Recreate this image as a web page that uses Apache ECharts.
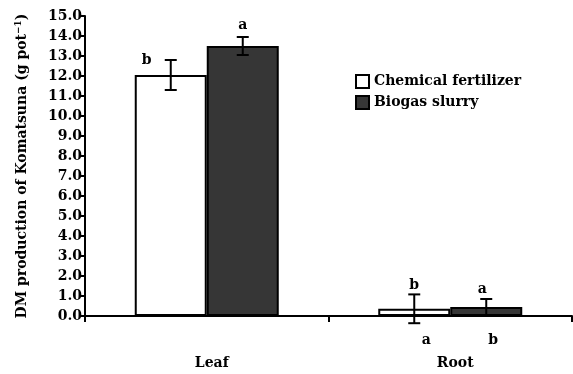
<!DOCTYPE html>
<html>
<head>
<meta charset="utf-8">
<script src="https://cdn.jsdelivr.net/npm/echarts@6/dist/echarts.min.js"></script>
<style>
  html, body { margin: 0; padding: 0; background: #fff; }
  #chart { width: 573px; height: 374px; }
</style>
</head>
<body>
<div id="chart"></div>
<script>
// data
const categories = ['Leaf', 'Root'];
const chemical = [12.05, 0.36];
const chemicalErr = [0.75, 0.72];
const biogas = [13.5, 0.45];
const biogasErr = [0.45, 0.4];
// significance letters: above the bars, and below the axis (root only)
const chemicalLetters = ['b', 'b'];
const biogasLetters = ['a', 'a'];
const chemicalLettersBelow = ['', 'a'];
const biogasLettersBelow = ['', 'b'];

const serif = '"DejaVu Serif", "Liberation Serif", serif';
const FS = 14;
const BAR_W = 72;

const chart = echarts.init(document.getElementById('chart'));

function errorSeries(values, errs, shift) {
  return {
    type: 'custom',
    z: 5,
    silent: true,
    data: values.map((v, i) => [i, v, errs[i]]),
    renderItem(params, api) {
      const i = api.value(0), v = api.value(1), e = api.value(2);
      const top = api.coord([i, v + e]);
      const bot = api.coord([i, v - e]);
      const x = top[0] + shift;
      const cap = 6;
      const style = { stroke: '#000', lineWidth: 2 };
      return {
        type: 'group',
        children: [
          { type: 'line', shape: { x1: x, y1: top[1], x2: x, y2: bot[1] }, style },
          { type: 'line', shape: { x1: x - cap, y1: top[1], x2: x + cap, y2: top[1] }, style },
          { type: 'line', shape: { x1: x - cap, y1: bot[1], x2: x + cap, y2: bot[1] }, style }
        ]
      };
    }
  };
}

function letterSeries(values, errs, letters, below, shift, dx, dy) {
  return {
    type: 'custom',
    z: 6,
    silent: true,
    data: values.map((v, i) => [i, v, errs[i]]),
    renderItem(params, api) {
      const i = api.value(0);
      const txt = letters[i];
      if (!txt) return null;
      const p = below ? api.coord([i, 0]) : api.coord([i, api.value(1) + api.value(2)]);
      return {
        type: 'text',
        style: {
          x: p[0] + shift + dx[i],
          y: p[1] + dy[i],
          text: txt,
          fill: '#000',
          font: 'bold ' + FS + 'px ' + serif,
          align: 'center',
          verticalAlign: 'middle'
        }
      };
    }
  };
}

const option = {
  animation: false,
  backgroundColor: '#fff',
  grid: { left: 85, right: 1, top: 16, bottom: 58 },
  legend: {
    orient: 'vertical',
    left: 350,
    top: 69,
    icon: 'rect',
    itemWidth: 13,
    itemHeight: 13,
    itemGap: 6,
    textStyle: { fontFamily: serif, fontWeight: 'bold', fontSize: FS, color: '#000' },
    data: ['Chemical fertilizer', 'Biogas slurry']
  },
  xAxis: {
    type: 'category',
    data: categories,
    axisLine: { lineStyle: { color: '#000', width: 2 } },
    axisTick: { show: true, length: 6, lineStyle: { color: '#000', width: 2 } },
    axisLabel: { margin: 40, padding: [0, 0, 0, 10], color: '#000', fontFamily: serif, fontWeight: 'bold', fontSize: FS }
  },
  yAxis: {
    type: 'value',
    min: 0,
    max: 15,
    interval: 1,
    name: 'DM production of Komatsuna (g pot{sup|−1})',
    nameLocation: 'middle',
    nameGap: 54,
    nameTextStyle: {
      color: '#000', fontFamily: serif, fontWeight: 'bold', fontSize: FS,
      rich: { sup: { fontFamily: serif, fontWeight: 'bold', fontSize: 9, verticalAlign: 'top', padding: [0, 0, 8, 0] } }
    },
    axisLine: { show: true, lineStyle: { color: '#000', width: 2 } },
    axisTick: { show: true, length: 5, lineStyle: { color: '#000', width: 2 } },
    splitLine: { show: false },
    axisLabel: {
      margin: 3,
      color: '#000', fontFamily: serif, fontWeight: 'bold', fontSize: FS,
      formatter: v => v.toFixed(1)
    }
  },
  series: [
    {
      name: 'Chemical fertilizer',
      type: 'bar',
      data: chemical,
      barWidth: BAR_W,
      barGap: '0%',
      itemStyle: { color: '#fff', borderColor: '#000', borderWidth: 2 }
    },
    {
      name: 'Biogas slurry',
      type: 'bar',
      data: biogas,
      barWidth: BAR_W,
      barGap: '0%',
      itemStyle: { color: '#363636', borderColor: '#000', borderWidth: 2 }
    },
    errorSeries(chemical, chemicalErr, -BAR_W / 2),
    errorSeries(biogas, biogasErr, BAR_W / 2),
    letterSeries(chemical, chemicalErr, chemicalLetters, false, -BAR_W / 2, [-24, 0], [0, -9]),
    letterSeries(biogas, biogasErr, biogasLetters, false, BAR_W / 2, [0, -4], [-12, -10]),
    letterSeries(chemical, chemicalErr, chemicalLettersBelow, true, -BAR_W / 2, [0, 12], [0, 24]),
    letterSeries(biogas, biogasErr, biogasLettersBelow, true, BAR_W / 2, [0, 7], [0, 24])
  ]
};

chart.setOption(option);
</script>
</body>
</html>
